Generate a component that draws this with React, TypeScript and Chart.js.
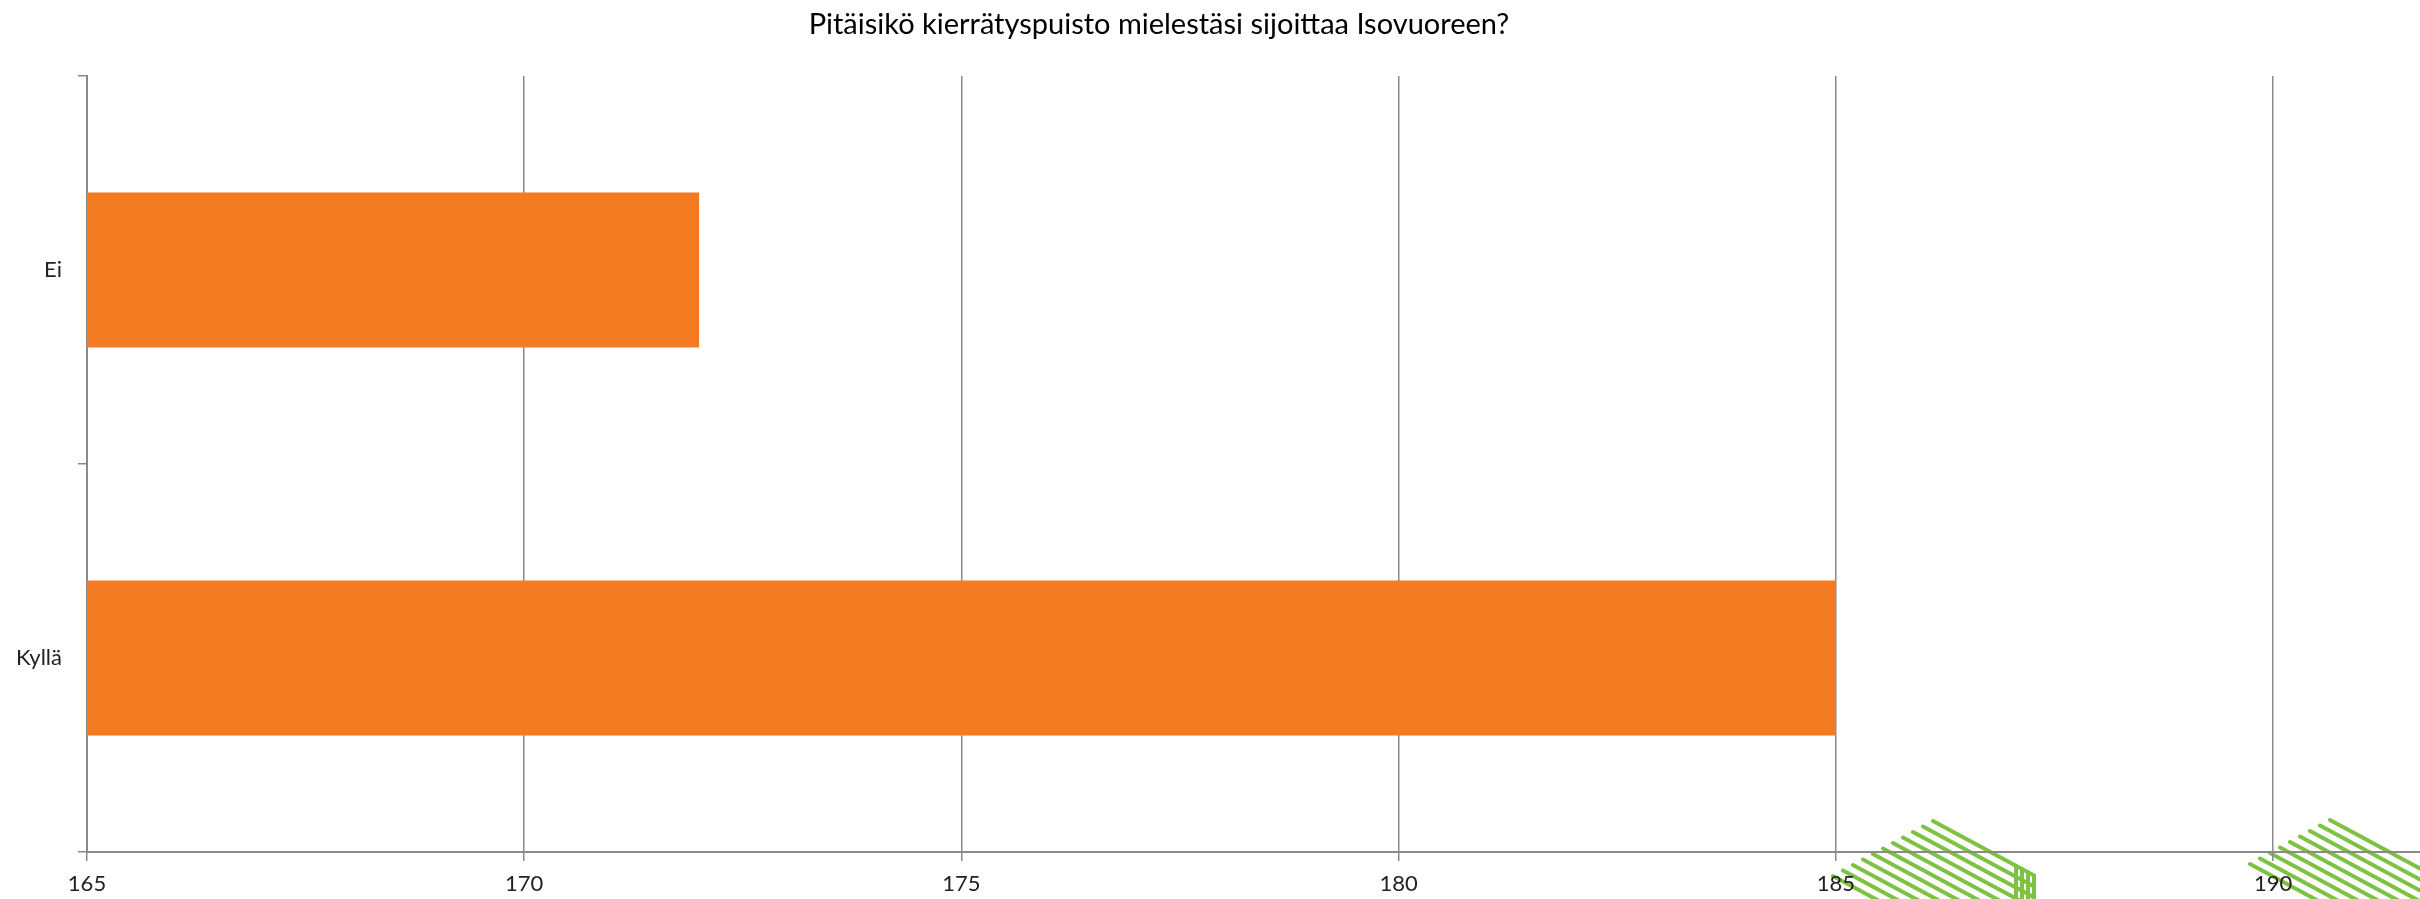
import React, { useEffect, useRef } from "react";
import { Chart, registerables } from "chart.js";

Chart.register(...registerables);

const chartTitle = "Pitäisikö kierrätyspuisto mielestäsi sijoittaa Isovuoreen?";
const categories = ["Ei", "Kyllä"];
const values = [172, 185];
const xTicks = [165, 170, 175, 180, 185, 190];
const xMin = 165;
const xMax = 191.68;

const FONT = "Lato, 'Open Sans', sans-serif";
const GRID = "#8a8a8a";
const DECO = "#7DC242";

// Background logo fragments (decoration only, cropped at bottom right)
const decoGroups = [
  { x0: 1933, y0: 821, xR: 2034, count: 11, verticals: [2034, 2028, 2022, 2016] },
  { x0: 2330, y0: 820, xR: 2520, count: 9, verticals: [] as number[] },
];

const decoPlugin = {
  id: "deco",
  beforeDraw(chart: any) {
    const ctx = chart.ctx;
    ctx.save();
    ctx.strokeStyle = DECO;
    ctx.lineWidth = 4;
    ctx.lineCap = "round";
    const slope = 0.54;
    for (const g of decoGroups) {
      for (let i = 0; i < g.count; i++) {
        const sx = g.x0 - 10 * i;
        const sy = g.y0 + 5.5 * i;
        const ex = g.xR;
        const ey = sy + slope * (ex - sx);
        ctx.beginPath();
        ctx.moveTo(sx, sy);
        ctx.lineTo(ex, ey);
        ctx.stroke();
      }
      for (const vx of g.verticals) {
        const top = g.y0 + slope * (vx - g.x0);
        ctx.beginPath();
        ctx.moveTo(vx, top);
        ctx.lineTo(vx, 910);
        ctx.stroke();
      }
    }
    ctx.restore();
  },
};

const titlePlugin = {
  id: "customTitle",
  afterDraw(chart: any) {
    const ctx = chart.ctx;
    ctx.save();
    ctx.fillStyle = "#000";
    ctx.font = `29px ${FONT}`;
    ctx.textAlign = "center";
    ctx.textBaseline = "middle";
    ctx.fillText(chartTitle, 1159, 25);
    ctx.restore();
  },
};

export default function App() {
  const ref = useRef<HTMLCanvasElement | null>(null);

  useEffect(() => {
    document.body.style.margin = "0";
    const canvas = ref.current;
    if (!canvas) return;
    const chart = new Chart(canvas, {
      type: "bar",
      data: {
        labels: categories,
        datasets: [
          {
            data: values,
            backgroundColor: "#F47B22",
            borderWidth: 0,
            barPercentage: 0.4,
            categoryPercentage: 1,
          },
        ],
      },
      options: {
        indexAxis: "y",
        animation: false,
        responsive: false,
        devicePixelRatio: 1,
        layout: { padding: { top: 76, left: 0, right: 0, bottom: 0 } },
        plugins: {
          legend: { display: false },
          tooltip: { enabled: false },
          title: { display: false },
        },
        scales: {
          x: {
            type: "linear",
            min: xMin,
            max: xMax,
            afterBuildTicks: (s: any) => {
              s.ticks = xTicks.map((v) => ({ value: v }));
            },
            afterFit: (s: any) => {
              s.height = 47;
            },
            grid: {
              color: GRID,
              lineWidth: 1.5,
              drawOnChartArea: true,
              drawTicks: true,
              tickLength: 9,
            },
            border: { display: true, color: GRID, width: 2 },
            ticks: {
              color: "#222",
              font: { family: FONT, size: 22 },
              padding: 10,
              maxRotation: 0,
              autoSkip: false,
            },
          },
          y: {
            type: "category",
            afterFit: (s: any) => {
              s.width = 87;
            },
            grid: {
              offset: true,
              color: GRID,
              lineWidth: 1.5,
              drawOnChartArea: false,
              drawTicks: true,
              tickLength: 9,
            },
            border: { display: true, color: GRID, width: 2 },
            ticks: {
              color: "#222",
              font: { family: FONT, size: 22 },
              padding: 16,
            },
          },
        },
      },
      plugins: [decoPlugin, titlePlugin],
    });
    return () => chart.destroy();
  }, []);

  return (
    <div style={{ width: 2420, height: 899 }}>
      <canvas ref={ref} width={2420} height={899} style={{ display: "block" }} />
    </div>
  );
}
